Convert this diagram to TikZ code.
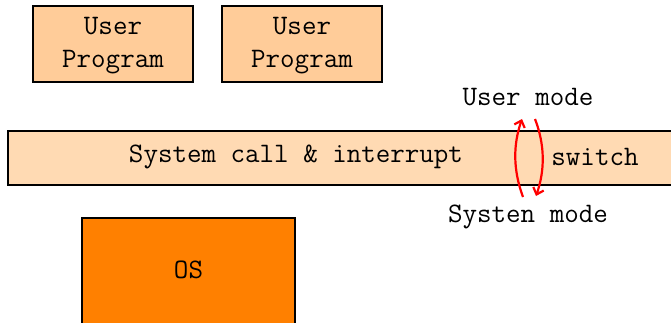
\documentclass[tikz,border=0pt]{standalone}
\usepackage{fontspec}
\usetikzlibrary{arrows.meta}
\definecolor{progfill}{HTML}{FFCC99}
\definecolor{barfill}{HTML}{FFDAB3}
\definecolor{osfill}{HTML}{FF8000}
\tikzset{
  box/.style={draw=black, line width=2.8pt, inner sep=0pt},
  txt/.style={font=\ttfamily\fontsize{28.2}{32}\selectfont, inner sep=0pt, align=center},
  modearrow/.style={draw=red, line width=2.2pt, -{Straight Barb[length=6pt,width=11pt,line width=2.2pt]}}
}
\begin{document}
\begin{tikzpicture}[x=1pt,y=-1pt]
\useasboundingbox (0,0) rectangle (671,323);
\begin{scope}
\clip (0,0) rectangle (671,323);
\node[box, fill=progfill, minimum width=160pt, minimum height=76pt] (up1) at (113,44) {};
\node[box, fill=progfill, minimum width=160pt, minimum height=76pt] (up2) at (302,44) {};
\node[txt] (up1a) at (113,26) {User};
\node[txt] (up1b) at (113,62) {Program};
\node[txt] (up2a) at (302,26) {User};
\node[txt] (up2b) at (302,62) {Program};
\node[box, fill=barfill, minimum width=666pt, minimum height=54pt] (bar) at (341,158) {};
\node[txt] (sc) at (296,157) {System call \& interrupt};
\node[txt] (sw) at (595,157) {switch};
\node[box, fill=osfill, minimum width=213pt, minimum height=116pt] (os) at (188.5,276) {};
\node[txt] (ost) at (188.5,270) {OS};
\end{scope}
\node[txt] (um) at (528,97) {User mode};
\node[txt] (sm) at (528,217) {Systen mode};
\coordinate (la) at (523,197);
\coordinate (lb) at (522,119);
\coordinate (ra) at (535,119);
\coordinate (rb) at (536,196);
\draw[modearrow] (la) .. controls (513,170) and (513,145) .. (lb);
\draw[modearrow] (ra) .. controls (545,145) and (545,170) .. (rb);
\end{tikzpicture}
\end{document}
